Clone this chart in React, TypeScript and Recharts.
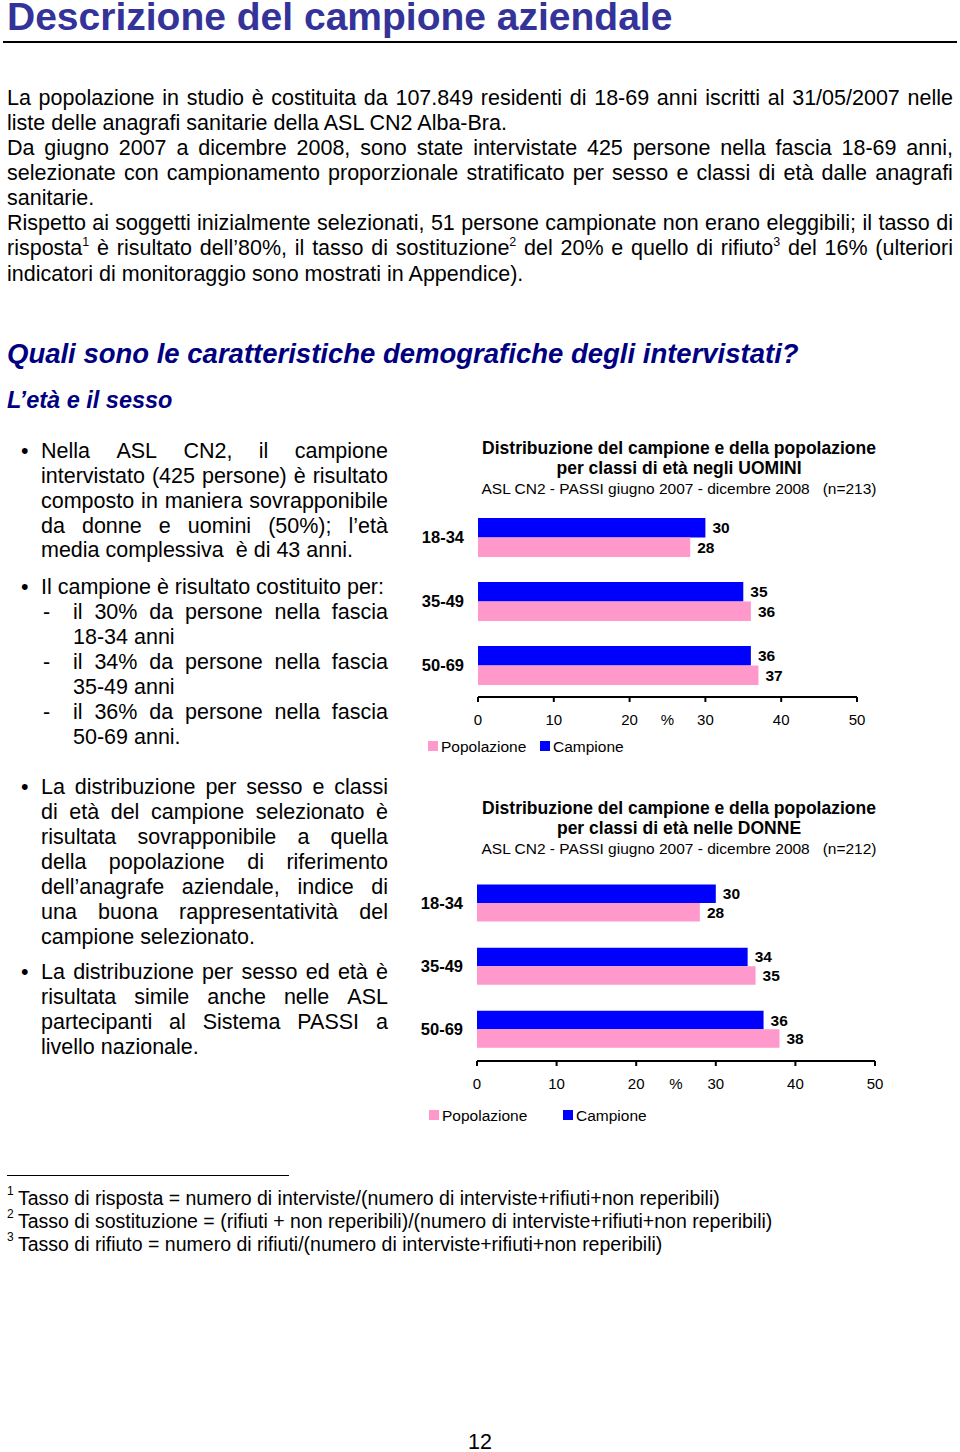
import React from 'react';
import { BarChart, Bar, XAxis, YAxis, LabelList } from 'recharts';

// chart values
const ageClasses = ['18-34', '35-49', '50-69'];
const uominiCampione = [30, 35, 36];
const uominiPopolazione = [28, 36, 37];
const donneCampione = [30, 34, 36];
const donnePopolazione = [28, 35, 38];
const xTicks = [0, 10, 20, 30, 40, 50];

const FONT = '"Liberation Sans", Arial, Helvetica, sans-serif';
const BLUE = '#0000ff';
const PINK = '#ff99cc';
const TITLE_BLUE = '#333399';
const NAVY = '#000080';

// page text: [centerY, text, justified]
const introLines: [number, string, boolean][] = [
  [97, 'La popolazione in studio è costituita da 107.849 residenti di 18-69 anni iscritti al 31/05/2007 nelle', true],
  [122, 'liste delle anagrafi sanitarie della ASL CN2 Alba-Bra.', false],
  [147, 'Da giugno 2007 a dicembre 2008, sono state intervistate 425 persone nella fascia 18-69 anni,', true],
  [172, 'selezionate con campionamento proporzionale stratificato per sesso e classi di età dalle anagrafi', true],
  [197, 'sanitarie.', false],
  [222, 'Rispetto ai soggetti inizialmente selezionati, 51 persone campionate non erano eleggibili; il tasso di', true],
  [247, 'risposta^1 è risultato dell’80%, il tasso di sostituzione^2 del 20% e quello di rifiuto^3 del 16% (ulteriori', true],
  [273, 'indicatori di monitoraggio sono mostrati in Appendice).', false],
];

// [centerY, text, justified, kind] kind: b = bullet, d = dash, i = indented dash continuation, '' = plain
const bulletLines: [number, string, boolean, string][] = [
  [450, 'Nella ASL CN2, il campione', true, 'b'],
  [475, 'intervistato (425 persone) è risultato', true, ''],
  [500, 'composto in maniera sovrapponibile', true, ''],
  [525, 'da donne e uomini (50%); l’età', true, ''],
  [549, 'media complessiva  è di 43 anni.', false, ''],
  [586, 'Il campione è risultato costituito per:', false, 'b'],
  [611, 'il 30% da persone nella fascia', true, 'd'],
  [636, '18-34 anni', false, 'i'],
  [661, 'il 34% da persone nella fascia', true, 'd'],
  [686, '35-49 anni', false, 'i'],
  [711, 'il 36% da persone nella fascia', true, 'd'],
  [736, '50-69 anni.', false, 'i'],
  [786, 'La distribuzione per sesso e classi', true, 'b'],
  [811, 'di età del campione selezionato è', true, ''],
  [836, 'risultata sovrapponibile a quella', true, ''],
  [861, 'della popolazione di riferimento', true, ''],
  [886, 'dell’anagrafe aziendale, indice di', true, ''],
  [911, 'una buona rappresentatività del', true, ''],
  [936, 'campione selezionato.', false, ''],
  [971, 'La distribuzione per sesso ed età è', true, 'b'],
  [996, 'risultata simile anche nelle ASL', true, ''],
  [1021, 'partecipanti al Sistema PASSI a', true, ''],
  [1046, 'livello nazionale.', false, ''],
];

const footnotes = [
  'Tasso di risposta = numero di interviste/(numero di interviste+rifiuti+non reperibili)',
  'Tasso di sostituzione = (rifiuti + non reperibili)/(numero di interviste+rifiuti+non reperibili)',
  'Tasso di rifiuto = numero di rifiuti/(numero di interviste+rifiuti+non reperibili)',
];

function renderWord(word: string, size: number) {
  const parts = word.split(/\^(\d)/);
  return parts.map((p, i) =>
    i % 2 === 1 ? (
      <span key={i} style={{ fontSize: size * 0.58, position: 'relative', top: -size * 0.42 }}>{p}</span>
    ) : (
      <React.Fragment key={i}>{p}</React.Fragment>
    )
  );
}

function TextLine(props: {
  x: number; y: number; w?: number; size: number; text: string;
  justify?: boolean; bold?: boolean; italic?: boolean; color?: string; center?: boolean;
}) {
  const { x, y, w, size, text, justify, bold, italic, color, center } = props;
  const style: React.CSSProperties = {
    position: 'absolute',
    left: x,
    top: y - size / 2 + 1.5,
    height: size,
    lineHeight: `${size}px`,
    fontSize: size,
    fontWeight: bold ? 'bold' : 'normal',
    fontStyle: italic ? 'italic' : 'normal',
    color: color || '#000',
    whiteSpace: 'pre',
    width: w,
    textAlign: center ? 'center' : 'left',
  };
  if (justify) {
    const words = text.split(' ').filter(Boolean);
    return (
      <div style={{ ...style, display: 'flex', justifyContent: 'space-between' }}>
        {words.map((wd, i) => <span key={i}>{renderWord(wd, size)}</span>)}
      </div>
    );
  }
  return <div style={style}>{renderWord(text, size)}</div>;
}

interface ChartProps {
  top: number;
  campione: number[];
  popolazione: number[];
  yWidth: number;
  marginTop: number;
  marginRight: number;
  marginBottom: number;
  barSize: number;
}

function AgeChart({ top, campione, popolazione, yWidth, marginTop, marginRight, marginBottom, barSize }: ChartProps) {
  const data = ageClasses.map((age, i) => ({ age, campione: campione[i], popolazione: popolazione[i] }));
  return (
    <div style={{ position: 'absolute', left: 410, top }}>
      <BarChart
        width={490}
        height={260}
        data={data}
        layout="vertical"
        barGap={0}
        barSize={barSize}
        margin={{ top: marginTop, right: marginRight, bottom: marginBottom, left: 0 }}
      >
        <XAxis
          type="number"
          domain={[0, 50]}
          ticks={xTicks}
          interval={0}
          height={30}
          tickSize={5}
          tickMargin={12}
          axisLine={{ stroke: '#000', strokeWidth: 2 }}
          tickLine={{ stroke: '#000', strokeWidth: 2 }}
          tick={{ fill: '#000', fontSize: 15, fontFamily: FONT }}
          label={{ value: '%', position: 'insideTop', offset: 17, fill: '#000', fontSize: 15, fontFamily: FONT }}
        />
        <YAxis
          type="category"
          dataKey="age"
          width={yWidth}
          tickSize={0}
          tickMargin={14}
          axisLine={false}
          tickLine={false}
          tick={{ fill: '#000', fontSize: 16.5, fontWeight: 'bold', fontFamily: FONT }}
        />
        <Bar dataKey="campione" fill={BLUE} isAnimationActive={false}>
          <LabelList dataKey="campione" position="right" offset={7} fill="#000" fontSize={15.5} fontWeight="bold" fontFamily={FONT} />
        </Bar>
        <Bar dataKey="popolazione" fill={PINK} isAnimationActive={false}>
          <LabelList dataKey="popolazione" position="right" offset={7} fill="#000" fontSize={15.5} fontWeight="bold" fontFamily={FONT} />
        </Bar>
      </BarChart>
    </div>
  );
}

function ChartTitle({ y, who, n }: { y: number; who: string; n: number }) {
  return (
    <>
      <TextLine x={429} y={y} w={500} size={17.5} bold center text="Distribuzione del campione e della popolazione" />
      <TextLine x={429} y={y + 20} w={500} size={17.5} bold center text={`per classi di età ${who}`} />
      <TextLine x={429} y={y + 40} w={500} size={15.5} center text={`ASL CN2 - PASSI giugno 2007 - dicembre 2008   (n=${n})`} />
    </>
  );
}

function Legend({ y, pinkX, blueX }: { y: number; pinkX: number; blueX: number }) {
  const sq = (x: number, c: string) => (
    <div style={{ position: 'absolute', left: x, top: y - 4, width: 10, height: 10, background: c }} />
  );
  return (
    <>
      {sq(pinkX, PINK)}
      <TextLine x={pinkX + 13} y={y} size={15.5} text="Popolazione" />
      {sq(blueX, BLUE)}
      <TextLine x={blueX + 13} y={y} size={15.5} text="Campione" />
    </>
  );
}

export default function App() {
  return (
    <div style={{ position: 'absolute', left: 0, top: 0, width: 960, height: 1452, background: '#fff', fontFamily: FONT, overflow: 'hidden' }}>
      <div style={{ position: 'absolute', left: 7, top: 0, height: 33, fontSize: 39, lineHeight: '33px', fontWeight: 'bold', color: TITLE_BLUE, whiteSpace: 'pre' }}>
        Descrizione del campione aziendale
      </div>
      <div style={{ position: 'absolute', left: 3, top: 41, width: 954, height: 1.5, background: '#000' }} />

      {introLines.map(([y, t, j], i) => (
        <TextLine key={i} x={7} y={y} w={946} size={21.5} text={t} justify={j} />
      ))}

      <TextLine x={7} y={352} size={27.5} bold italic color={NAVY} text="Quali sono le caratteristiche demografiche degli intervistati?" />
      <TextLine x={7} y={399} size={23.5} bold italic color={NAVY} text="L’età e il sesso" />

      {bulletLines.map(([y, t, j, k], i) => {
        const indent = k === 'd' || k === 'i';
        const x = indent ? 73 : 41;
        return (
          <React.Fragment key={i}>
            {k === 'b' && <TextLine x={21} y={y} size={21.5} text="•" />}
            {k === 'd' && <TextLine x={43} y={y} size={21.5} text="-" />}
            <TextLine x={x} y={y} w={388 - x} size={21.5} text={t} justify={j} />
          </React.Fragment>
        );
      })}

      <ChartTitle y={447} who="negli UOMINI" n={213} />
      <AgeChart top={490} campione={uominiCampione} popolazione={uominiPopolazione}
        yWidth={68} marginTop={15} marginRight={43} marginBottom={23} barSize={19.5} />
      <Legend y={745} pinkX={428} blueX={540} />

      <ChartTitle y={807} who="nelle DONNE" n={212} />
      <AgeChart top={856} campione={donneCampione} popolazione={donnePopolazione}
        yWidth={67} marginTop={15.5} marginRight={25} marginBottom={25} barSize={18.5} />
      <Legend y={1114} pinkX={429} blueX={563} />

      <div style={{ position: 'absolute', left: 7, top: 1174.5, width: 282, height: 1.2, background: '#000' }} />
      {footnotes.map((t, i) => (
        <React.Fragment key={i}>
          <TextLine x={7} y={1189 + i * 23} size={12} text={String(i + 1)} />
          <TextLine x={18} y={1197 + i * 23} size={19.5} text={t} />
        </React.Fragment>
      ))}

      <div style={{ position: 'absolute', left: 430, top: 1432, width: 100, height: 20, fontSize: 21.5, lineHeight: '20px', textAlign: 'center' }}>
        12
      </div>
    </div>
  );
}
